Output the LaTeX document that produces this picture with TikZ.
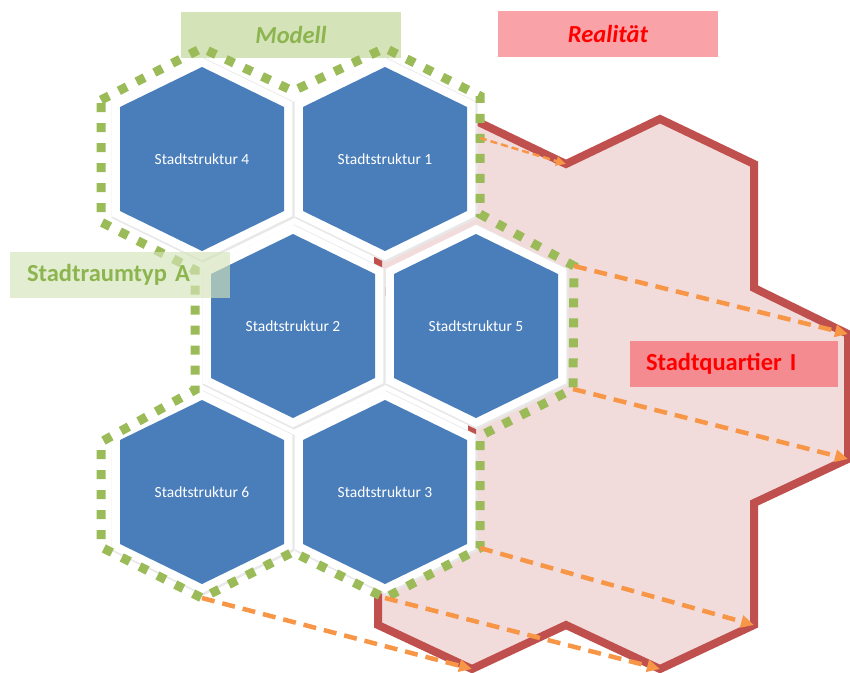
\documentclass[tikz,border=0pt]{standalone}
\usepackage{fontspec}
\setmainfont{Carlito}
\usetikzlibrary{arrows.meta}

\definecolor{hexblue}{HTML}{4A7EBB}
\definecolor{typegreen}{HTML}{9BBB59}
\definecolor{typetext}{HTML}{8DB54F}
\definecolor{typefill}{HTML}{D4E3B8}
\definecolor{quarterred}{HTML}{C0504D}
\definecolor{quarterpink}{HTML}{F2DCDB}
\definecolor{realfill}{HTML}{F9A3A8}
\definecolor{quarterfill}{HTML}{F48B91}
\definecolor{maporange}{HTML}{F79646}

\begin{document}
\begin{tikzpicture}[x=1pt, y=-1pt,
    hexshade/.style={draw=black!9, line width=19pt, line join=miter},
    hexframe/.style={draw=white, line width=16.5pt, line join=miter},
    hexcell/.style={fill=hexblue},
    hexlabel/.style={text=white, font=\fontsize{15.5}{18}\selectfont},
    typeline/.style={draw=typegreen, line width=9pt, dash pattern=on 9pt off 11pt},
    quarterline/.style={fill=quarterpink, draw=quarterred, line width=8pt, line join=miter},
    titlebox/.style={minimum width=220pt, minimum height=46pt, inner sep=0pt,
                     font=\bfseries\fontsize{24.5}{28}\selectfont},
    mapping/.style={draw=maporange, line width=4.5pt, dash pattern=on 13pt off 8pt,
                    -{Triangle[length=13pt, width=12pt]}},
    thinmapping/.style={draw=maporange, line width=2.5pt, dash pattern=on 7pt off 4pt,
                        -{Triangle[length=10pt, width=9pt]}}]
  \useasboundingbox (0,0) rectangle (850,672);

  % corner points of the quarter (reality)
  \coordinate (r1) at (378,164);  \coordinate (r2) at (472,119);
  \coordinate (r3) at (566,164);  \coordinate (r4) at (660,119);
  \coordinate (r5) at (754,164);  \coordinate (r6) at (754,288);
  \coordinate (r7) at (848,334);  \coordinate (r8) at (848,459);
  \coordinate (r9) at (754,503);  \coordinate (r10) at (754,625);
  \coordinate (r11) at (660,669); \coordinate (r12) at (566,625);
  \coordinate (r13) at (472,669); \coordinate (r14) at (378,625);
  \coordinate (r15) at (378,503); \coordinate (r16) at (472,459);
  \coordinate (r17) at (472,334); \coordinate (r18) at (378,288);

  % corner points of the space type (model)
  \coordinate (g1) at (101,100);  \coordinate (g2) at (202,48);
  \coordinate (g3) at (293,91);   \coordinate (g4) at (385,48);
  \coordinate (g5) at (480,96);   \coordinate (g6) at (480,214);
  \coordinate (g7) at (574,266);  \coordinate (g8) at (573,389);
  \coordinate (g9) at (480,436);  \coordinate (g10) at (480,548);
  \coordinate (g11) at (385,598); \coordinate (g12) at (293,552);
  \coordinate (g13) at (202,598); \coordinate (g14) at (101,547);
  \coordinate (g15) at (101,442); \coordinate (g16) at (195,390);
  \coordinate (g17) at (195,270); \coordinate (g18) at (101,222);
  \coordinate (g5b) at (480,138);

  % quarter
  \filldraw[quarterline] (r1) -- (r2) -- (r3) -- (r4) -- (r5) -- (r6) -- (r7)
    -- (r8) -- (r9) -- (r10) -- (r11) -- (r12) -- (r13) -- (r14) -- (r15)
    -- (r16) -- (r17) -- (r18) -- cycle;

  % headings
  \node[titlebox, fill=typefill, text=typetext, font=\bfseries\itshape\fontsize{24.5}{28}\selectfont]
    (modell) at (291,34.5) {Modell};
  \node[titlebox, fill=realfill, text=red, font=\bfseries\itshape\fontsize{24.5}{28}\selectfont]
    (realitaet) at (608,34) {Realität};

  % city structures
  \foreach \cx/\cy/\nm/\num in {202/159/s4/4, 385/159/s1/1, 293/326/s2/2,
                                476/326/s5/5, 202/492/s6/6, 385/492/s3/3} {
    \draw[hexshade] (\cx+1,\cy+1) ++(0,-92) -- ++(82,40) -- ++(0,104) -- ++(-82,40)
      -- ++(-82,-40) -- ++(0,-104) -- cycle;
    \draw[hexframe] (\cx,\cy) ++(0,-92) -- ++(82,40) -- ++(0,104) -- ++(-82,40)
      -- ++(-82,-40) -- ++(0,-104) -- cycle;
  }
  \foreach \cx/\cy/\nm/\num in {202/159/s4/4, 385/159/s1/1, 293/326/s2/2,
                                476/326/s5/5, 202/492/s6/6, 385/492/s3/3} {
    \fill[hexcell] (\cx,\cy) ++(0,-92) -- ++(82,40) -- ++(0,104) -- ++(-82,40)
      -- ++(-82,-40) -- ++(0,-104) -- cycle;
    \node[hexlabel] (\nm) at (\cx,\cy) {Stadtstruktur \num};
  }

  % space type outline
  \draw[typeline] (g1) -- (g2) -- (g3) -- (g4) -- (g5) -- (g6) -- (g7) -- (g8)
    -- (g9) -- (g10) -- (g11) -- (g12) -- (g13) -- (g14) -- (g15) -- (g16)
    -- (g17) -- (g18) -- cycle;

  % labels on the shapes
  \node[titlebox, fill=typefill, fill opacity=0.65, text opacity=1, text=typetext,
        text width=186pt, align=left, inner xsep=17pt]
    (raumtyp) at (120,274.5) {Stadtraumtyp A};
  \node[titlebox, fill=quarterfill, text=red, minimum width=208pt,
        text width=176pt, align=left, inner xsep=16pt]
    (quartier) at (734,363.5) {Stadtquartier I};

  % model -> reality
  \draw[thinmapping] (g5b) -- (r3);
  \draw[mapping] (g7) -- (r7);
  \draw[mapping] (g8) -- (r8);
  \draw[mapping] (g10) -- (r10);
  \draw[mapping] (g11) -- (r11);
  \draw[mapping] (g13) -- (r13);
\end{tikzpicture}
\end{document}
